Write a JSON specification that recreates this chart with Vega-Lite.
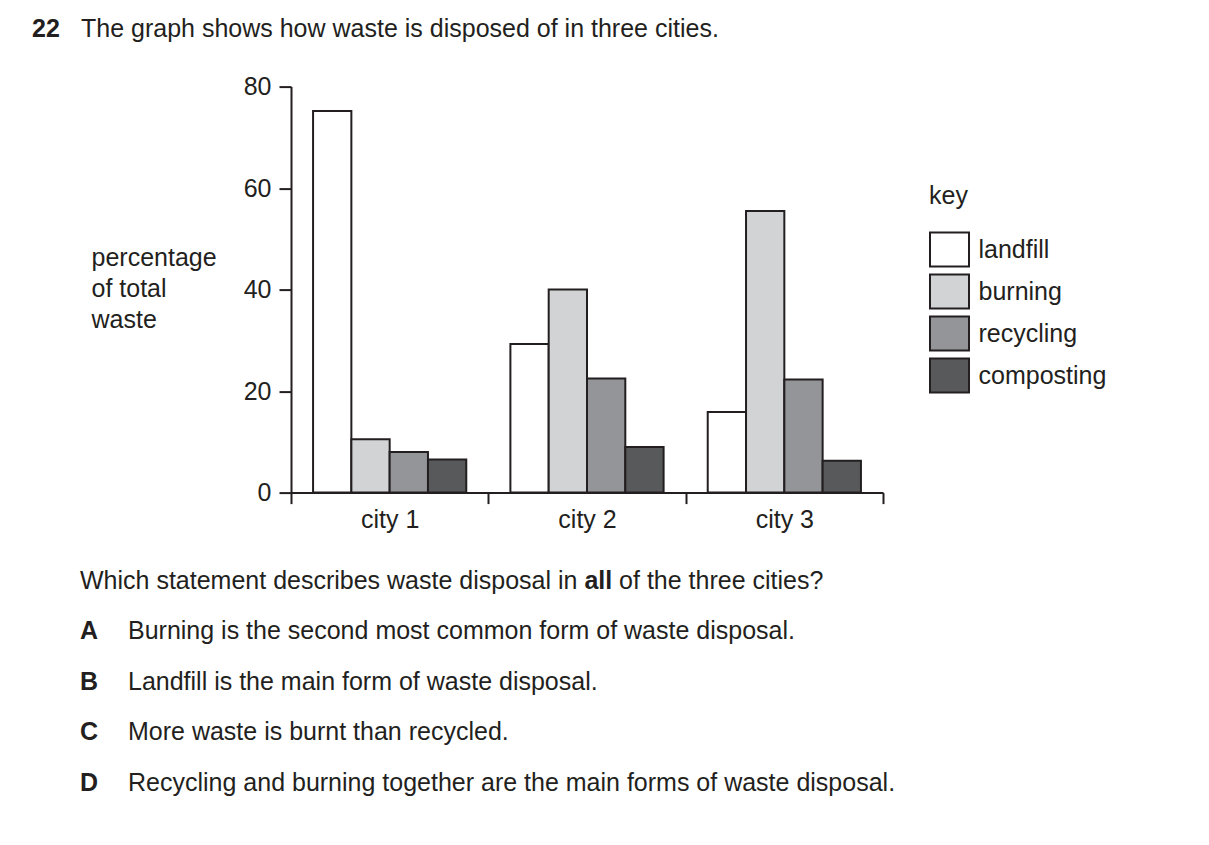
{
  "$schema": "https://vega.github.io/schema/vega-lite/v6.json",
  "background": "white",
  "padding": {"left": 32, "top": 0, "right": 0, "bottom": 0},
  "config": {
    "view": {"stroke": null},
    "font": "Liberation Sans",
    "text": {"color": "#231f20"}
  },
  "bounds": "flush",
  "spacing": 12.6,
  "vconcat": [
    {
      "width": 98,
      "height": 73.4,
      "data": {"values": [
        {"part": "num", "text": "22"},
        {"part": "sentence", "text": "The graph shows how waste is disposed of in three cities."}
      ]},
      "encoding": {
        "x": {"field": "part", "type": "nominal", "bandPosition": 0,
              "scale": {"type": "band", "domain": ["num", "sentence"], "paddingInner": 0, "paddingOuter": 0},
              "axis": null},
        "text": {"field": "text", "type": "nominal"}
      },
      "layer": [
        {"transform": [{"filter": "datum.part === 'num'"}],
         "mark": {"type": "text", "align": "left", "baseline": "alphabetic", "dx": -259, "fontSize": 25, "fontWeight": "bold", "color": "#231f20"}},
        {"transform": [{"filter": "datum.part === 'sentence'"}],
         "mark": {"type": "text", "align": "left", "baseline": "alphabetic", "dx": -259, "fontSize": 25, "fontWeight": "normal", "color": "#231f20"}}
      ]
    },
    {
      "bounds": "flush",
      "spacing": 55,
      "vconcat": [
        {
          "width": 592,
          "height": 406,
          "data": {"values": [
            {"city": "city 1", "method": "landfill", "percentage": 75.2},
            {"city": "city 1", "method": "burning", "percentage": 10.5},
            {"city": "city 1", "method": "recycling", "percentage": 8},
            {"city": "city 1", "method": "composting", "percentage": 6.5},
            {"city": "city 2", "method": "landfill", "percentage": 29.3},
            {"city": "city 2", "method": "burning", "percentage": 40},
            {"city": "city 2", "method": "recycling", "percentage": 22.5},
            {"city": "city 2", "method": "composting", "percentage": 9},
            {"city": "city 3", "method": "landfill", "percentage": 15.9},
            {"city": "city 3", "method": "burning", "percentage": 55.5},
            {"city": "city 3", "method": "recycling", "percentage": 22.3},
            {"city": "city 3", "method": "composting", "percentage": 6.3}
          ]},
          "mark": {"type": "bar", "stroke": "#231f20", "strokeWidth": 2, "opacity": 1},
          "encoding": {
            "x": {"field": "city", "type": "nominal", "sort": ["city 1", "city 2", "city 3"],
                  "scale": {"paddingInner": 0, "paddingOuter": 0},
                  "axis": {"title": null, "tickBand": "extent", "labelAngle": 0, "labelFontSize": 25,
                           "labelColor": "#231f20", "labelPadding": 4, "tickSize": 11, "tickWidth": 2,
                           "tickColor": "#231f20", "domainColor": "#231f20", "domainWidth": 2}},
            "xOffset": {"field": "method", "type": "nominal", "sort": ["landfill", "burning", "recycling", "composting"],
                        "scale": {"paddingInner": 0, "paddingOuter": 0.576}},
            "y": {"field": "percentage", "type": "quantitative",
                  "scale": {"domain": [0, 80], "nice": false},
                  "axis": {"values": [0, 20, 40, 60, 80], "grid": false, "tickSize": 12, "tickWidth": 2,
                           "tickColor": "#231f20", "domainColor": "#231f20", "domainWidth": 2,
                           "labelFontSize": 25, "labelColor": "#231f20", "labelPadding": 8,
                           "title": ["percentage", "of total", "waste"], "titleAngle": 0, "titleAlign": "left",
                           "titleBaseline": "top", "titleX": -200, "titleY": 159, "titleFontSize": 25,
                           "titleFontWeight": "normal", "titleLineHeight": 31, "titleColor": "#231f20"}},
            "fill": {"field": "method", "type": "nominal", "sort": ["landfill", "burning", "recycling", "composting"],
                     "scale": {"domain": ["landfill", "burning", "recycling", "composting"],
                               "range": ["#ffffff", "#d1d3d4", "#939598", "#58595b"]},
                     "legend": {"title": "key", "orient": "none", "legendX": 638, "legendY": 184, "padding": 0,
                                "titleFontSize": 25, "titleFontWeight": "normal", "titleColor": "#231f20",
                                "titlePadding": 20, "labelFontSize": 25, "labelColor": "#231f20", "labelOffset": 8.5,
                                "labelLimit": 300, "symbolType": "M-1,-0.872H1V0.872H-1Z", "symbolSize": 1521,
                                "symbolStrokeWidth": 2, "symbolStrokeColor": "#231f20", "symbolOpacity": 1,
                                "rowPadding": -2}}
          }
        },
        {
          "width": 96,
          "height": 252.5,
          "data": {"values": [
            {"row": "Q", "col": "letter", "piece": "main", "text": "Which statement describes waste disposal in"},
            {"row": "Q", "col": "letter", "piece": "bold", "text": "all"},
            {"row": "Q", "col": "letter", "piece": "tail", "text": "of the three cities?"},
            {"row": "A", "col": "letter", "piece": "key", "text": "A"},
            {"row": "A", "col": "text", "piece": "main", "text": "Burning is the second most common form of waste disposal."},
            {"row": "B", "col": "letter", "piece": "key", "text": "B"},
            {"row": "B", "col": "text", "piece": "main", "text": "Landfill is the main form of waste disposal."},
            {"row": "C", "col": "letter", "piece": "key", "text": "C"},
            {"row": "C", "col": "text", "piece": "main", "text": "More waste is burnt than recycled."},
            {"row": "D", "col": "letter", "piece": "key", "text": "D"},
            {"row": "D", "col": "text", "piece": "main", "text": "Recycling and burning together are the main forms of waste disposal."}
          ]},
          "encoding": {
            "x": {"field": "col", "type": "nominal", "bandPosition": 0,
                  "scale": {"type": "band", "domain": ["letter", "text"], "paddingInner": 0, "paddingOuter": 0},
                  "axis": null},
            "y": {"field": "row", "type": "nominal",
                  "scale": {"type": "band", "domain": ["Q", "A", "B", "C", "D"], "paddingInner": 0, "paddingOuter": 0},
                  "axis": null},
            "text": {"field": "text", "type": "nominal"}
          },
          "layer": [
            {"transform": [{"filter": "datum.piece === 'main'"}],
             "mark": {"type": "text", "align": "left", "baseline": "middle", "dx": -211, "dy": 8, "fontSize": 25, "color": "#231f20"}},
            {"transform": [{"filter": "datum.piece === 'key'"}],
             "mark": {"type": "text", "align": "left", "baseline": "middle", "dx": -211, "dy": 8, "fontSize": 25, "fontWeight": "bold", "color": "#231f20"}},
            {"transform": [{"filter": "datum.piece === 'bold'"}],
             "mark": {"type": "text", "align": "left", "baseline": "middle", "dx": 293.4, "dy": 8, "fontSize": 25, "fontWeight": "bold", "color": "#231f20"}},
            {"transform": [{"filter": "datum.piece === 'tail'"}],
             "mark": {"type": "text", "align": "left", "baseline": "middle", "dx": 328.1, "dy": 8, "fontSize": 25, "color": "#231f20"}}
          ]
        }
      ]
    }
  ]
}
